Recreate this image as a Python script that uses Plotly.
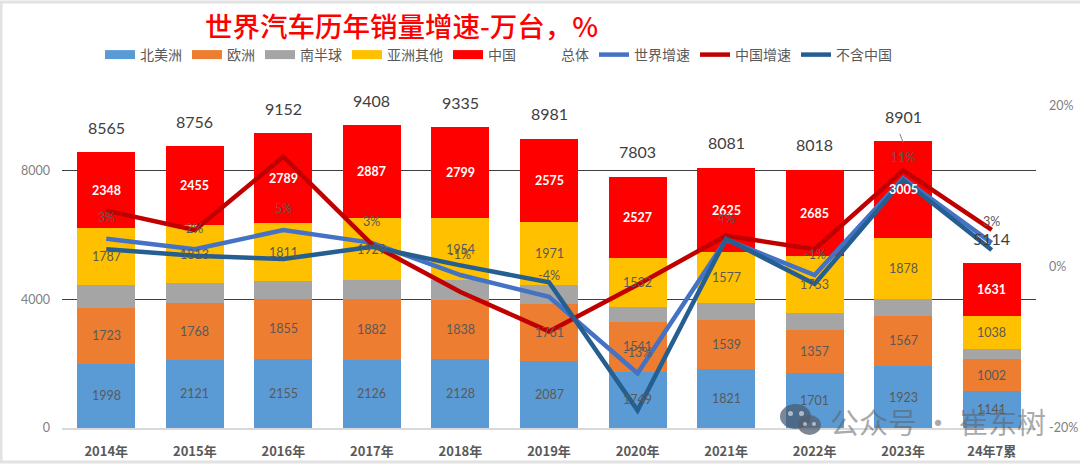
"""World auto sales by region with growth rates"""

import plotly.graph_objects as go

years = ['2014年', '2015年', '2016年', '2017年', '2018年', '2019年', '2020年', '2021年', '2022年', '2023年', '24年7累']

north_america = [1998, 2121, 2155, 2126, 2128, 2087, 1749, 1821, 1701, 1923, 1141]
europe = [1723, 1768, 1855, 1882, 1838, 1761, 1541, 1539, 1357, 1567, 1002]
south = [709, 599, 542, 584, 616, 587, 454, 519, 522, 528, 302]
other_asia = [1787, 1813, 1811, 1929, 1954, 1971, 1532, 1577, 1753, 1878, 1038]
china = [2348, 2455, 2789, 2887, 2799, 2575, 2527, 2625, 2685, 3005, 1631]
totals = [8565, 8756, 9152, 9408, 9335, 8981, 7803, 8081, 8018, 8901, 5114]

world_growth = [3.5, 2.2, 4.6, 3.0, -1.0, -3.7, -13.2, 3.4, -1.0, 11.0, 3.0]
china_growth = [7.0, 4.6, 13.7, 2.8, -3.1, -8.0, -2.2, 3.9, 2.2, 12.0, 4.6]
ex_china_growth = [2.2, 1.4, 1.0, 2.5, 0.2, -1.9, -17.8, 3.5, -2.1, 10.8, 2.1]
world_labels = ['3%', '2%', '5%', '3%', '-1%', '-4%', '-13%', '4%', '-1%', '11%', '3%']
growth_ticks = [-20, 0, 20]
growth_tick_labels = ['-20%', '0%', '20%']

TEXT = '#595959'
NUM_FONT = 'Lato'
CJK_FONT = 'Noto Sans CJK SC'
PLOT_L, PLOT_R, PLOT_T, PLOT_B = 62, 1036, 106, 428


def px(x):
    return (x - PLOT_L) / (PLOT_R - PLOT_L)


def py(y):
    return (PLOT_B - y) / (PLOT_B - PLOT_T)


def bubble(x0, x1, y0, y1, fill):
    """Ellipse of the watermark logo, in page pixels"""
    return {'type': 'circle', 'xref': 'paper', 'yref': 'paper', 'x0': px(x0), 'x1': px(x1), 'y0': py(y1), 'y1': py(y0),
            'fillcolor': fill, 'line': {'width': 0}}


fig = go.Figure()
annotations = []

stacks = [
    ('北美洲', north_america, '#5B9BD5', TEXT, True),
    ('欧洲', europe, '#ED7D31', TEXT, True),
    ('南半球', south, '#A5A5A5', TEXT, False),
    ('亚洲其他', other_asia, '#FFC000', TEXT, True),
    ('中国', china, '#FF0000', 'white', True),
]
base = [0] * len(years)
for name, values, color, label_color, labelled in stacks:
    fig.add_trace(go.Bar(x=years, y=values, marker={'color': color, 'line': {'width': 0}}, showlegend=False))
    # wide legend swatch, same as the source chart
    fig.add_trace(go.Scatter(x=[None], y=[None], mode='lines', name=name, line={'color': color, 'width': 9}))
    if labelled:
        # labels sit above the lines in the source, so they can't be bar text
        for year, start, value in zip(years, base, values):
            annotations.append({'x': year, 'y': start + value / 2, 'yref': 'y', 'text': str(value), 'showarrow': False,
                                'font': {'family': NUM_FONT, 'size': 12.5, 'color': label_color,
                                         'weight': 700 if label_color == 'white' else 400}})
    base = [start + value for start, value in zip(base, values)]

fig.add_trace(go.Scatter(x=[None], y=[None], mode='lines', name='总体', line={'color': 'rgba(0,0,0,0)', 'width': 1}))

lines = [
    ('世界增速', world_growth, '#4472C4'),
    ('中国增速', china_growth, '#C00000'),
    ('不含中国', ex_china_growth, '#255E91'),
]
for name, values, color in lines:
    fig.add_trace(go.Scatter(x=years, y=values, yaxis='y2', mode='lines', name=name,
                             line={'color': color, 'width': 4.5}))

for year, total in zip(years, totals):
    annotations.append({'x': year, 'y': total, 'yref': 'y', 'text': str(total), 'showarrow': False, 'yshift': 25,
                        'font': {'family': NUM_FONT, 'size': 16, 'color': '#404040'}})
for year, value, label in zip(years, world_growth, world_labels):
    annotations.append({'x': year, 'y': value, 'yref': 'y2', 'text': label, 'showarrow': False, 'yshift': 21,
                        'font': {'family': NUM_FONT, 'size': 12.5, 'color': TEXT}})
# leader line of the 2023 total
annotations.append({'x': years[9], 'y': totals[9], 'yref': 'y', 'text': '', 'showarrow': True, 'arrowhead': 0,
                    'arrowwidth': 1, 'arrowcolor': '#7F7F7F', 'ax': -4, 'ay': -10, 'yshift': -1})
annotations.append({'x': px(938), 'y': py(421), 'xref': 'paper', 'yref': 'paper', 'xanchor': 'center',
                    'yanchor': 'middle', 'text': '公众号 · 崔东树', 'showarrow': False,
                    'font': {'family': CJK_FONT, 'size': 29, 'color': 'rgba(95,95,95,0.55)'}})

# frame and watermark logo
shapes = [
    {'type': 'path', 'xref': 'paper', 'yref': 'paper', 'line': {'color': '#E2E2E2', 'width': 3},
     'path': f'M {px(1080)} {py(2)} L {px(1)} {py(2)} L {px(1)} {py(462)} L {px(1080)} {py(462)}'},
    bubble(780, 811, 404, 429, 'rgba(70,85,105,0.7)'),
    bubble(798, 821, 415, 435, 'rgba(85,95,110,0.75)'),
    bubble(788, 793, 411, 416, 'rgba(255,255,255,0.55)'),
    bubble(799, 804, 411, 416, 'rgba(255,255,255,0.55)'),
    bubble(803, 807, 422, 426, 'rgba(255,255,255,0.55)'),
    bubble(812, 816, 422, 426, 'rgba(255,255,255,0.55)'),
]

fig.update_layout(
    width=1080, height=464, autosize=False,
    margin={'l': PLOT_L, 'r': 1080 - PLOT_R, 't': PLOT_T, 'b': 464 - PLOT_B},
    paper_bgcolor='white', plot_bgcolor='white',
    barmode='stack', bargap=0.345,
    title={'text': '世界汽车历年销量增速-万台，%', 'x': 205 / 1080, 'xanchor': 'left', 'xref': 'container',
           'y': 1 - 27 / 464, 'yanchor': 'middle',
           'font': {'family': CJK_FONT, 'size': 27.5, 'color': '#FF0000', 'weight': 500}},
    legend={'orientation': 'h', 'x': px(100), 'xanchor': 'left', 'y': py(55), 'yanchor': 'middle',
            'traceorder': 'normal', 'itemwidth': 30, 'font': {'family': CJK_FONT, 'size': 14, 'color': TEXT},
            'bgcolor': 'rgba(0,0,0,0)'},
    xaxis={'automargin': False, 'showline': True, 'linecolor': '#D9D9D9', 'linewidth': 2, 'ticks': '',
           'showgrid': False, 'ticklabelstandoff': 10,
           'tickfont': {'family': CJK_FONT, 'size': 13, 'color': TEXT, 'weight': 700}},
    yaxis={'automargin': False, 'range': [0, 10000], 'tickvals': [0, 4000, 8000], 'showline': False, 'showgrid': True,
           'gridcolor': '#404040', 'gridwidth': 1, 'zeroline': False, 'ticklabelstandoff': 11,
           'tickfont': {'family': NUM_FONT, 'size': 12.5, 'color': '#7F7F7F'}},
    yaxis2={'automargin': False, 'overlaying': 'y', 'side': 'right', 'range': [-20, 20], 'tickvals': growth_ticks,
            'ticktext': growth_tick_labels, 'showgrid': False, 'zeroline': False, 'showline': False,
            'ticklabelstandoff': 12, 'tickfont': {'family': NUM_FONT, 'size': 12.5, 'color': '#7F7F7F'}},
    annotations=annotations, shapes=shapes,
)

# the page margin would push the fixed-size figure out of the window
fig.write_html('out.html', config={'displayModeBar': False},
               post_script="document.body.style.margin='0';document.body.style.overflow='hidden';")
